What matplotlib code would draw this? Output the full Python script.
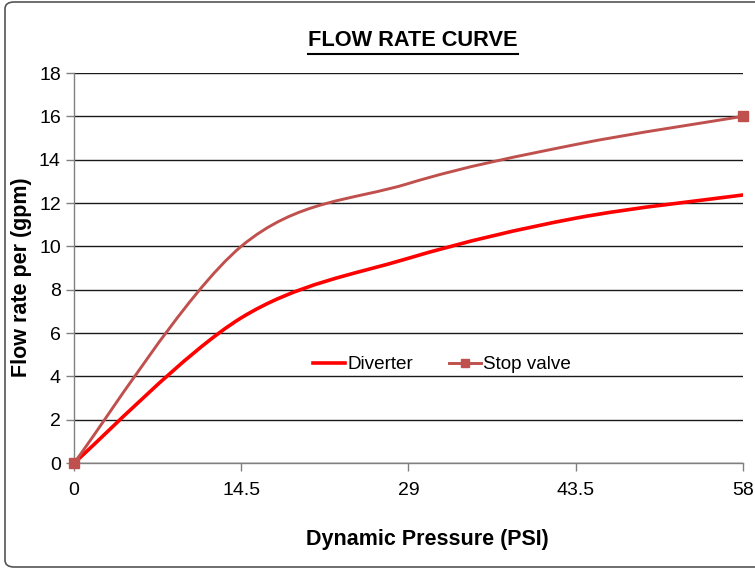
import numpy as np
import matplotlib
matplotlib.use("Agg")
import matplotlib.pyplot as plt
from matplotlib.path import Path
from matplotlib.patches import PathPatch, FancyBboxPatch
from matplotlib.lines import Line2D

plt.rcParams['font.family'] = ['Liberation Sans', 'DejaVu Sans']

pressure = [0, 14.5, 29, 43.5, 58]
diverter = [0, 6.7, 9.45, 11.3, 12.37]
stop_valve = [0, 10.0, 12.9, 14.7, 16.0]
x_ticks = [0, 14.5, 29, 43.5, 58]
x_tick_labels = ["0", "14.5", "29", "43.5", "58"]
y_ticks = list(range(0, 19, 2))


def smooth_path(x, y):
    # excel style smoothed line: catmull-rom as cubic beziers
    p = np.column_stack((x, y)).astype(float)
    n = len(p)
    verts = [p[0]]
    codes = [Path.MOVETO]
    for i in range(n - 1):
        p0 = p[max(i - 1, 0)]
        p1 = p[i]
        p2 = p[i + 1]
        p3 = p[min(i + 2, n - 1)]
        c1 = p1 + (p2 - p0) / 6.0
        c2 = p2 - (p3 - p1) / 6.0
        verts += [c1, c2, p2]
        codes += [Path.CURVE4] * 3
    return Path(verts, codes)


fig = plt.figure(figsize=(7.55, 5.69), dpi=100)
ax = fig.add_axes([74 / 755, 1 - 463 / 569, 669 / 755, 390 / 569])

red = "#FF0000"
brick = "#C0504D"

ax.add_patch(PathPatch(smooth_path(pressure, diverter), fill=False,
                       edgecolor=red, lw=2.6, capstyle='round', zorder=3))
ax.add_patch(PathPatch(smooth_path(pressure, stop_valve), fill=False,
                       edgecolor=brick, lw=2.1, capstyle='round', zorder=4))
ax.plot(pressure, stop_valve, ls='none', marker='s', ms=6.5, color=brick,
        markevery=[0, -1], zorder=5, clip_on=False)

ax.set_xlim(0, 58)
ax.set_ylim(0, 18)
ax.set_xticks(x_ticks)
ax.set_xticklabels(x_tick_labels)
ax.set_yticks(y_ticks)
ax.tick_params(axis='both', direction='out', labelsize=14, colors='#808080',
               labelcolor='black', length=6, width=1)
ax.tick_params(axis='x', pad=8)
ax.yaxis.grid(True, color='#1a1a1a', lw=1)
ax.set_axisbelow(True)
for s in ['top', 'right']:
    ax.spines[s].set_visible(False)
for s in ['left', 'bottom']:
    ax.spines[s].set_color('#808080')
    ax.spines[s].set_linewidth(1)
ax.spines['bottom'].set_zorder(2.5)

ax.set_xlabel("Dynamic Pressure (PSI)", fontsize=15.5, fontweight='bold')
ax.set_ylabel("Flow rate per (gpm)", fontsize=15.5, fontweight='bold')
ax.xaxis.set_label_coords((427 - 74) / 669, (463 - 539) / 390)
ax.yaxis.set_label_coords((22 - 74) / 669, (463 - 277) / 390)
ax.xaxis.label.set_va('center')
ax.yaxis.label.set_va('center')

handles = [Line2D([], [], color=red, lw=2.6),
           Line2D([], [], color=brick, lw=2.1, marker='s', ms=6)]
ax.legend(handles, ["Diverter", "Stop valve"], loc='center',
          bbox_to_anchor=(0.55, 0.252), ncol=2, frameon=False, fontsize=13.6,
          handlelength=1.7, handletextpad=0.1, columnspacing=1.9)

title = fig.text(413 / 755, 1 - 41 / 569, "FLOW RATE CURVE", ha='center',
                 va='center', fontsize=15.7, fontweight='bold')

# figure border
fig.patches.append(FancyBboxPatch((5 / 755, 2 / 569), 760 / 755, 565 / 569,
                                  boxstyle="round,pad=0,rounding_size=0.012",
                                  transform=fig.transFigure, fill=False,
                                  edgecolor='#555555', lw=1.2))

# underline the title
fig.canvas.draw()
bb = title.get_window_extent().transformed(fig.transFigure.inverted())
uy = bb.y0 - 2 / 569
fig.add_artist(Line2D([bb.x0, bb.x1], [uy, uy], transform=fig.transFigure,
                      color='black', lw=1.5))

fig.savefig("out.png", dpi=100)
